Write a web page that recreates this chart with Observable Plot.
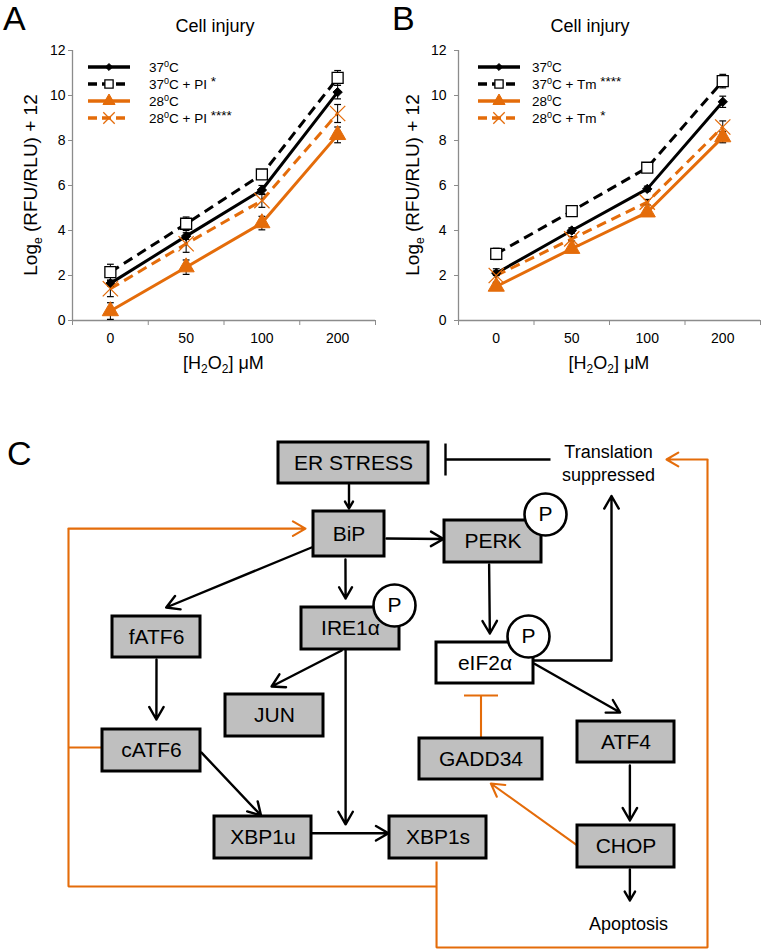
<!DOCTYPE html>
<html>
<head>
<meta charset="utf-8">
<script src="https://cdn.jsdelivr.net/npm/d3@7"></script>
<script src="https://cdn.jsdelivr.net/npm/@observablehq/plot@0.6"></script>
<style>
  html, body { margin: 0; padding: 0; background: #fff; }
  #fig { position: relative; width: 761px; height: 951px; overflow: hidden; background: #fff; }
  #fig svg { position: absolute; overflow: visible; }
</style>
</head>
<body>
<div id="fig"></div>
<script>
// ---------------- DATA ----------------
const doses = ["0", "50", "100", "200"];
const yTicks = [0, 2, 4, 6, 8, 10, 12];
const temps = ["37", "37", "28", "28"];
const treatA = ["", " + PI", "", " + PI"];
const starsA = ["", "*", "", "****"];
const treatB = ["", " + Tm", "", " + Tm"];
const starsB = ["", "****", "", "*"];

// Panel A: Log_e(RFU/RLU)+12, mean and error
const a37 = [1.65, 3.75, 5.8, 10.15];
const a37PI = [2.15, 4.3, 6.49, 10.78];
const a28 = [0.42, 2.37, 4.33, 8.25];
const a28PI = [1.41, 3.41, 5.33, 9.2];
const a37Err = [0.12, 0.15, 0.2, 0.3];
const a37PIErr = [0.35, 0.3, 0.2, 0.33];
const a28Err = [0.37, 0.32, 0.3, 0.35];
const a28PIErr = [0.35, 0.38, 0.3, 0.4];

// Panel B
const b37 = [2.1, 4.0, 5.85, 9.72];
const b37Tm = [2.96, 4.86, 6.79, 10.64];
const b28 = [1.51, 3.19, 4.81, 8.15];
const b28Tm = [2.0, 3.63, 5.26, 8.6];
const b37Err = [0.1, 0.12, 0.12, 0.25];
const b37TmErr = [0.25, 0.1, 0.1, 0.3];
const b28Err = [0.15, 0.1, 0.1, 0.25];
const b28TmErr = [0.3, 0.1, 0.12, 0.27];

// Panel C: pathway nodes and labels
const nodeNames = ["ER STRESS", "BiP", "PERK", "fATF6", "IRE1α", "eIF2α", "JUN", "GADD34", "ATF4", "cATF6", "XBP1u", "XBP1s", "CHOP"];
const openNodes = ["eIF2α"];
const phosphoNodes = ["PERK", "IRE1α", "eIF2α"];
const outcomeLabels = ["Translation\nsuppressed", "Apoptosis"];
// activating edges: [from, side, frac, gap] -> [to, side, frac, gap]
const blackEdges = [
  [["ER STRESS", "B", 0.47, 1], ["BiP", "T", 0.5, 3]],
  [["BiP", "R", 0.6, 2], ["PERK", "L", 0.44, 1]],
  [["BiP", "L", 0.8, 2], ["fATF6", "T", 0.61, 9]],
  [["BiP", "B", 0.45, 3], ["IRE1α", "T", 0.45, 9]],
  [["PERK", "B", 0.46, 2], ["eIF2α", "T", 0.55, 9]],
  [["eIF2α", "R", 0.52, 1], ["ATF4", "T", 0.44, 9]],
  [["IRE1α", "B", 0.41, 1], ["JUN", "T", 0.47, 8]],
  [["fATF6", "B", 0.5, 2], ["cATF6", "T", 0.55, 10]],
  [["cATF6", "R", 0.55, 1], ["XBP1u", "T", 0.48, 1]],
  [["XBP1u", "R", 0.4, 0], ["XBP1s", "L", 0.4, 1]],
  [["ATF4", "B", 0.54, 3], ["CHOP", "T", 0.54, 5]]
];

// ---------------- STYLE / LAYOUT ----------------
const font = "'Liberation Sans', Arial, Helvetica, sans-serif";
const gray = "#8c8c8c", orange = "#e46c0a", boxFill = "#bfbfbf";
const seriesStyle = [
  {stroke: "#000", dash: undefined, symbol: "diamond2", fill: "#000", mstroke: "#000", r: 4.2, msw: 1, ldash: null},
  {stroke: "#000", dash: "10,6", symbol: "square", fill: "#fff", mstroke: "#000", r: 6.2, msw: 1.3, ldash: "9,5"},
  {stroke: orange, dash: undefined, symbol: "triangle", fill: orange, mstroke: orange, r: 6, msw: 1, ldash: null},
  {stroke: orange, dash: "10,6", symbol: "times", fill: "none", mstroke: orange, r: 7, msw: 1.3, ldash: "9,5"}
];
const symbolMap = {diamond2: d3.symbolDiamond2, square: d3.symbolSquare, triangle: d3.symbolTriangle, times: d3.symbolTimes};

const chartH = 380, mTop = 50, mBottom = 60;
const charts = [
  {left: 0, width: 380, ml: 72, mr: 5, pad: 3, letter: "A", letterX: 3, titleX: 215, ylabX: 30, legLine: 16, legText: 77,
   vals: [a37, a37PI, a28, a28PI], errs: [a37Err, a37PIErr, a28Err, a28PIErr], treat: treatA, stars: starsA},
  {left: 380, width: 381, ml: 78, mr: 1, pad: 8, letter: "B", letterX: 12, titleX: 210, ylabX: 32, legLine: 20, legText: 74,
   vals: [b37, b37Tm, b28, b28Tm], errs: [b37Err, b37TmErr, b28Err, b28TmErr], treat: treatB, stars: starsB}
];

// diagram layout in page pixels: [left, top, width, height]
const box = {
  "ER STRESS": [278, 442, 150, 41], "BiP": [313, 511, 71, 45], "PERK": [444, 520, 97, 42],
  "fATF6": [112, 616, 88, 41], "IRE1α": [301, 607, 98, 42], "eIF2α": [436, 642, 97, 41],
  "JUN": [225, 694, 98, 42], "GADD34": [419, 738, 123, 41], "ATF4": [577, 721, 97, 41],
  "cATF6": [102, 729, 98, 42], "XBP1u": [214, 816, 97, 42], "XBP1s": [389, 816, 97, 42],
  "CHOP": [577, 825, 97, 42]
};
const pOffset = {"PERK": [4, -6], "IRE1α": [-5, -2], "eIF2α": [-5, -6]};
const outcomePos = {"Translation\nsuppressed": [608, 461.5], "Apoptosis": [628, 922]};
const lanes = {left: 68, low: 886, bottom: 947, right: 707};
const diagTop = 380;

const fig = document.getElementById("fig");

// ---------------- CHARTS ----------------
function makeChart(L) {
  const rows = [];
  L.vals.forEach((arr, s) => arr.forEach((v, i) => rows.push({s, i, v, e: L.errs[s][i]})));
  const xDom = [-0.5, doses.length - 0.5];
  const yDom = [yTicks[0], yTicks[yTicks.length - 1]];
  const bounds = d3.range(doses.length + 1).map(k => k - 0.5);
  const cap = 0.045;
  const marks = [
    Plot.axisY({ticks: yTicks, tickSize: 4, tickPadding: L.pad, stroke: gray, fill: "#000", fontSize: 14, label: null}),
    Plot.axisX({ticks: bounds, tickSize: 5, tickFormat: () => "", stroke: gray, label: null}),
    Plot.axisX({ticks: d3.range(doses.length), tickSize: 0, tickPadding: 13, tickFormat: i => doses[i], fill: "#000", fontSize: 14, label: null}),
    Plot.ruleX([xDom[0]], {stroke: gray, strokeWidth: 1.3}),
    Plot.ruleY([yDom[0]], {stroke: gray, strokeWidth: 1.3})
  ];
  seriesStyle.forEach((st, s) => {
    marks.push(Plot.line(rows.filter(d => d.s === s), {x: "i", y: "v", stroke: st.stroke, strokeWidth: 3, strokeDasharray: st.dash, strokeLinecap: "butt"}));
  });
  marks.push(Plot.link(rows, {x1: "i", x2: "i", y1: d => d.v - d.e, y2: d => d.v + d.e, stroke: "#000", strokeWidth: 1}));
  marks.push(Plot.link(rows, {x1: d => d.i - cap, x2: d => d.i + cap, y1: d => d.v + d.e, y2: d => d.v + d.e, stroke: "#000", strokeWidth: 1.2}));
  marks.push(Plot.link(rows, {x1: d => d.i - cap, x2: d => d.i + cap, y1: d => d.v - d.e, y2: d => d.v - d.e, stroke: "#000", strokeWidth: 1.2}));
  seriesStyle.forEach((st, s) => {
    marks.push(Plot.dot(rows.filter(d => d.s === s), {x: "i", y: "v", symbol: st.symbol, r: st.r, fill: st.fill, stroke: st.mstroke, strokeWidth: st.msw}));
  });
  const svg = Plot.plot({
    width: L.width, height: chartH,
    marginLeft: L.ml, marginRight: L.mr, marginTop: mTop, marginBottom: mBottom,
    x: {type: "linear", domain: xDom},
    y: {domain: yDom},
    style: {fontFamily: font, background: "transparent", color: "#000"},
    marks
  });
  svg.style.left = L.left + "px";
  svg.style.top = "0px";
  fig.appendChild(svg);
}
charts.forEach(makeChart);

// ---------------- DIAGRAM ----------------
function anchor(n, side, f = 0.5, gap = 0) {
  const [l, t, w, h] = box[n];
  if (side === "T") return [l + w * f, t - gap];
  if (side === "B") return [l + w * f, t + h + gap];
  if (side === "L") return [l - gap, t + h * f];
  return [l + w + gap, t + h * f];
}
function makeDiagram() {
  const seg = (a, b) => ({x1: a[0], y1: a[1], x2: b[0], y2: b[1]});
  const nodes = nodeNames.map(n => {
    const [l, t, w, h] = box[n];
    return {n, l, t, w, h, fill: openNodes.includes(n) ? "#fff" : boxFill};
  });
  const pts = phosphoNodes.map(n => {
    const [l, t, w] = box[n];
    const [dx, dy] = pOffset[n];
    return {x: l + w + dx, y: t + dy};
  });
  const outs = outcomeLabels.map(s => ({s, x: outcomePos[s][0], y: outcomePos[s][1]}));
  const trans = outcomePos[outcomeLabels[0]], apo = outcomePos[outcomeLabels[1]];

  const blackHeads = blackEdges.map(([f, t]) => seg(anchor(...f), anchor(...t)));
  const ireOut = anchor("IRE1α", "B", 0.45, 1);
  const spliceY = anchor("XBP1u", "R", 0.4, 0)[1];
  blackHeads.push(seg(ireOut, [ireOut[0], spliceY - 9]));
  const chopOut = anchor("CHOP", "B", 0.54, 2);
  blackHeads.push(seg(chopOut, [chopOut[0], apo[1] - 22]));
  const eOut = anchor("eIF2α", "R", 0.44, 0);
  const laneT = trans[0] + 3;
  blackHeads.push(seg([laneT, eOut[1]], [laneT, trans[1] + 34]));
  const erR = anchor("ER STRESS", "R", 0.415, 17);
  const inhY = erR[1];
  const blackPlain = [
    seg(eOut, [laneT, eOut[1]]),
    seg([trans[0] - 58, inhY], [erR[0], inhY]),
    seg([erR[0], inhY - 16], [erR[0], inhY + 16])
  ];

  const xOut = anchor("XBP1s", "B", 0.485, 3);
  const bipIn = anchor("BiP", "L", 0.38, 8);
  const catf = anchor("cATF6", "L", 0.43, 0);
  const orangePaths = [
    [xOut, [xOut[0], lanes.bottom], [lanes.right, lanes.bottom], [lanes.right, inhY]],
    [[xOut[0], lanes.low], [lanes.left, lanes.low], [lanes.left, bipIn[1]]],
    [catf, [lanes.left, catf[1]]]
  ];
  const orangeRows = orangePaths.flatMap((p, k) => p.map(([x, y]) => ({k, x, y})));
  const orangeHeads = [
    seg([lanes.right, inhY], [trans[0] + 58, inhY]),
    seg([lanes.left, bipIn[1]], bipIn),
    seg(anchor("CHOP", "L", 0.48, 0), anchor("GADD34", "B", 0.58, 4))
  ];
  const gTop = anchor("GADD34", "T", 0.5, 0);
  const eBot = anchor("eIF2α", "B", 0.5, 12);
  const orangePlain = [
    seg(gTop, [gTop[0], eBot[1]]),
    seg([gTop[0] - 17, eBot[1]], [gTop[0] + 17, eBot[1]])
  ];

  const bsw = 2.4, osw = 2.1, wing = 14.5;
  const svg = Plot.plot({
    width: 761, height: 951 - diagTop, margin: 0,
    x: {domain: [0, 761], range: [0, 761], axis: null},
    y: {domain: [diagTop, 951], range: [0, 951 - diagTop], axis: null},
    style: {fontFamily: font, background: "transparent", color: "#000"},
    marks: [
      Plot.line(orangeRows, {x: "x", y: "y", z: "k", stroke: orange, strokeWidth: osw, strokeLinejoin: "miter", strokeLinecap: "butt"}),
      Plot.link(orangePlain, {x1: "x1", y1: "y1", x2: "x2", y2: "y2", stroke: orange, strokeWidth: osw}),
      Plot.arrow(orangeHeads, {x1: "x1", y1: "y1", x2: "x2", y2: "y2", stroke: orange, strokeWidth: osw, headAngle: 60, headLength: wing * 1.5 / osw}),
      Plot.link(blackPlain, {x1: "x1", y1: "y1", x2: "x2", y2: "y2", stroke: "#000", strokeWidth: bsw}),
      Plot.arrow(blackHeads, {x1: "x1", y1: "y1", x2: "x2", y2: "y2", stroke: "#000", strokeWidth: bsw, headAngle: 60, headLength: wing * 1.5 / bsw}),
      Plot.rect(nodes, {x1: "l", x2: d => d.l + d.w, y1: "t", y2: d => d.t + d.h, fill: "fill", stroke: "#000", strokeWidth: 3}),
      Plot.dot(pts, {x: "x", y: "y", r: 21, fill: "#fff", stroke: "#000", strokeWidth: 2.6}),
      Plot.text(pts, {x: "x", y: "y", text: () => "P", fontSize: 21, fill: "#000"}),
      Plot.text(nodes, {x: d => d.l + d.w / 2, y: d => d.t + d.h / 2, text: "n", fontSize: 21, fill: "#000"}),
      Plot.text(outs, {x: "x", y: "y", text: "s", fontSize: 18, lineHeight: 1.28, fill: "#000"})
    ]
  });
  svg.style.left = "0px";
  svg.style.top = diagTop + "px";
  fig.appendChild(svg);
}
makeDiagram();

// ---------------- TEXT OVERLAY (labels, titles, legends) ----------------
const ov = d3.select(fig).append("svg")
  .attr("width", 761).attr("height", 951)
  .style("left", "0px").style("top", "0px").style("pointer-events", "none")
  .attr("font-family", font).attr("fill", "#000");

ov.append("text").attr("x", 7).attr("y", 465).attr("font-size", 34).text("C");

charts.forEach(L => {
  const plotL = L.left + L.ml, plotR = L.left + L.width - L.mr;
  ov.append("text").attr("x", L.left + L.letterX).attr("y", 30).attr("font-size", 34).text(L.letter);
  ov.append("text").attr("x", L.left + L.titleX).attr("y", 31.5).attr("font-size", 18).attr("text-anchor", "middle").text("Cell injury");
  // y label
  const yl = ov.append("text").attr("transform", `translate(${L.left + L.ylabX},${(mTop + chartH - mBottom) / 2}) rotate(-90)`)
    .attr("text-anchor", "middle").attr("dy", "0.35em").attr("font-size", 19);
  yl.append("tspan").text("Log");
  yl.append("tspan").attr("font-size", 12).attr("dy", 5).text("e");
  yl.append("tspan").attr("dy", -5).text(" (RFU/RLU) + 12");
  // x label
  const xl = ov.append("text").attr("x", (plotL + plotR) / 2).attr("y", 369).attr("text-anchor", "middle").attr("font-size", 18);
  xl.append("tspan").text("[H");
  xl.append("tspan").attr("font-size", 12).attr("dy", 4).text("2");
  xl.append("tspan").attr("dy", -4).text("O");
  xl.append("tspan").attr("font-size", 12).attr("dy", 4).text("2");
  xl.append("tspan").attr("dy", -4).text("] μM");
  // legend
  seriesStyle.forEach((st, k) => {
    const y = mTop + 17 + k * 17;
    const x0 = plotL + L.legLine;
    ov.append("line").attr("x1", x0).attr("x2", x0 + 42).attr("y1", y).attr("y2", y)
      .attr("stroke", st.stroke).attr("stroke-width", 3.5).attr("stroke-dasharray", st.ldash);
    ov.append("path").attr("d", d3.symbol(symbolMap[st.symbol], Math.PI * (st.r * 0.75) ** 2)())
      .attr("transform", `translate(${x0 + 21},${y})`)
      .attr("fill", st.fill).attr("stroke", st.mstroke).attr("stroke-width", st.msw);
    const t = ov.append("text").attr("x", plotL + L.legText).attr("y", y + 5).attr("font-size", 13.5);
    t.append("tspan").text(temps[k]);
    t.append("tspan").attr("font-size", 9).attr("dy", -5).text("0");
    t.append("tspan").attr("dy", 5).text("C" + L.treat[k]);
    if (L.stars[k]) {
      t.append("tspan").text(" ");
      t.append("tspan").attr("dy", -3).text(L.stars[k]);
    }
  });
});
</script>
</body>
</html>
